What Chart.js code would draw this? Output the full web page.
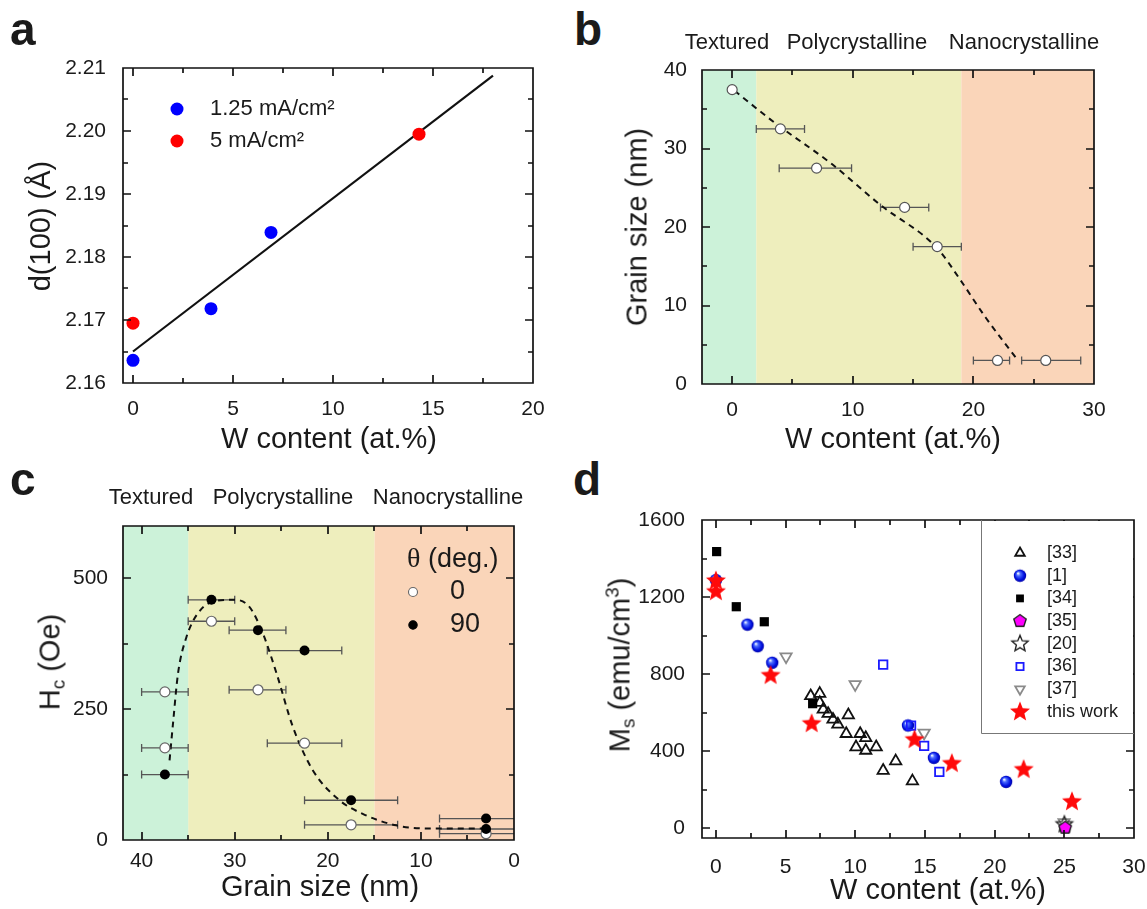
<!DOCTYPE html>
<html>
<head>
<meta charset="utf-8">
<script src="https://cdn.jsdelivr.net/npm/chart.js@4.4.1/dist/chart.umd.min.js"></script>
<style>
body { margin:0; width:1147px; height:909px; background:#fff; position:relative; overflow:hidden;
       font-family:"Liberation Sans", Arial, sans-serif; color:#1a1a1a; }
canvas { position:absolute; }
.t { position:absolute; white-space:nowrap; line-height:1; }
.c { transform:translate(-50%,-50%); }
.r { transform:translate(-50%,-50%) rotate(-90deg); }
.lab { font-weight:bold; font-size:46px; }
.ax { font-size:29px; }
.reg { font-size:22px; }
sub { font-size:65%; vertical-align:-0.25em; line-height:0; }
sup { font-size:65%; vertical-align:0.6em; line-height:0; }
</style>
</head>
<body>
<canvas id="chartA"></canvas>
<canvas id="chartB"></canvas>
<canvas id="chartC"></canvas>
<canvas id="chartD"></canvas>

<div class="t lab" style="left:10px;top:6px">a</div>
<div class="t lab" style="left:574px;top:6px">b</div>
<div class="t lab" style="left:10px;top:456px">c</div>
<div class="t lab" style="left:573px;top:456px">d</div>

<div class="t ax r" style="left:40px;top:226px">d(100) (Å)</div>
<div class="t ax c" style="left:329px;top:438px">W content (at.%)</div>
<div class="t ax r" style="left:637px;top:227px">Grain size (nm)</div>
<div class="t ax c" style="left:893px;top:438px">W content (at.%)</div>
<div class="t ax r" style="left:50px;top:662px">H<sub>c</sub> (Oe)</div>
<div class="t ax c" style="left:320px;top:886px">Grain size (nm)</div>
<div class="t ax r" style="left:620px;top:665px">M<sub>s</sub> (emu/cm<sup>3</sup>)</div>
<div class="t ax c" style="left:938px;top:889px">W content (at.%)</div>

<script>
// ---- panel a: d(100) vs W content
const aX125 = [0, 3.9, 6.9];
const aY125 = [2.1636, 2.1718, 2.1839];
const aX5 = [0, 14.3];
const aY5 = [2.1695, 2.1995];
const aFitX = [0, 18];
const aFitY = [2.165, 2.2088];
const aXTicks = [0, 5, 10, 15, 20];
const aYTicks = [2.16, 2.17, 2.18, 2.19, 2.20, 2.21];
const aSeries = ['1.25 mA/cm²', '5 mA/cm²'];

// ---- panel b: grain size vs W content
const bX = [0, 4, 7, 14.3, 17, 22, 26];
const bY = [37.5, 32.5, 27.5, 22.5, 17.5, 3, 3];
const bErrLo = [null, 2, 3.9, 12.3, 15, 20, 24];
const bErrHi = [null, 6, 9.9, 16.3, 19, 23, 28.9];
const bFitX = [0.2, 3.6, 8.2, 12.3, 17.0, 18.9, 21.0, 23.5];
const bFitY = [37.35, 33.2, 28.1, 22.8, 17.3, 13.3, 8.5, 3.4];
const bBandEdges = [2, 19];
const bXTicks = [0, 10, 20, 30];
const bYTicks = [0, 10, 20, 30, 40];

const regionNames = ['Textured', 'Polycrystalline', 'Nanocrystalline'];

// ---- panel c: Hc vs grain size
const c0X = [37.5, 37.5, 32.5, 27.5, 22.5, 17.5, 3];
const c0Y = [283, 176, 418, 287, 185, 29, 12];
const c0Lo = [35, 35, 30, 24.5, 18.5, 12.5, -2];
const c0Hi = [40, 40, 35, 30.6, 26.5, 22.5, 8];
const c90X = [37.5, 32.5, 27.5, 22.5, 17.5, 3, 3];
const c90Y = [125, 459, 401, 362, 76, 41, 21];
const c90Lo = [35, 30, 24.5, 18.5, 12.5, -2, -2];
const c90Hi = [40, 35, 30.6, 26.5, 22.5, 8, 8];
const cFitX = [37.0, 36.6, 36.1, 35.2, 33.75, 31.96, 30, 28.4, 26.96, 25.5, 23.75, 21.6, 18.75, 16.25, 12.67, 9.1, 5.5, 2.7];
const cFitY = [152, 228, 317, 387, 438, 457, 459, 445, 394, 318, 216, 133, 76, 50, 28, 22, 22, 22];
const cBandEdges = [15, 35];
const cXTicks = [0, 10, 20, 30, 40];
const cYTicks = [0, 250, 500];
const cSeries = ['0', '90'];

// ---- panel d: Ms vs W content
const d33X = [6.8, 7.45, 7.45, 7.7, 8.05, 8.4, 8.75, 9.5, 9.35, 10.35, 10.75, 10.05, 10.75, 11.5, 12.9, 12.0, 14.1];
const d33Y = [687, 699, 652, 617, 595, 565, 540, 588, 491, 491, 470, 422, 404, 422, 349, 300, 245];
const d1X = [0, 2.26, 3.0, 4.04, 13.78, 15.64, 20.82];
const d1Y = [1288, 1057, 945, 859, 534, 366, 241];
const d34X = [0.05, 1.46, 3.47, 6.94];
const d34Y = [1436, 1150, 1072, 647];
const d35X = [25.06];
const d35Y = [3];
const d20X = [25];
const d20Y = [20];
const d36X = [12.0, 14.0, 14.94, 16.03];
const d36Y = [850, 533, 428, 293];
const d37X = [5.03, 9.99, 14.94, 24.98];
const d37Y = [891, 747, 495, 31];
const dWorkX = [0, 0, 3.92, 6.87, 14.25, 16.93, 22.08, 25.55];
const dWorkY = [1284, 1228, 793, 543, 460, 336, 305, 138];
const dLegend = ['[33]', '[1]', '[34]', '[35]', '[20]', '[36]', '[37]', 'this work'];
const dXTicks = [0, 5, 10, 15, 20, 25, 30];
const dYTicks = [0, 400, 800, 1200, 1600];

const FONT = '"Liberation Sans", Arial, sans-serif';
Chart.defaults.font.family = FONT;
Chart.defaults.color = '#1a1a1a';

const GREEN = '#ccf2d9', YELLOW = '#eeeebd', ORANGE = '#fad5b9';
const PAD = 28;   // room kept free above and right of each plot

function xy(xs, ys) { return xs.map((x, i) => ({ x: x, y: ys[i] })); }
function zip(lo, hi) { return lo.map((l, i) => (l === null ? null : [l, hi[i]])); }

function axis(pos, min, max, ticks, size, pad, fmt, extra) {
  return Object.assign({
    type: 'linear', position: pos, min: min, max: max,
    grid: { display: false }, border: { display: false },
    ticks: { font: { size: 21 }, padding: pad, maxRotation: 0, autoSkip: false,
             callback: fmt || (v => String(v)) },
    afterBuildTicks: s => { s.ticks = ticks.map(v => ({ value: v })); },
    afterFit: s => { if (pos === 'left') s.width = size; else s.height = size; }
  }, extra || {});
}

// frame with inward ticks on all four sides, built as one path
function frameTicks(xMinor, xMajor, yMinor, yMajor) {
  return {
    id: 'frameTicks',
    afterDraw(chart) {
      const ctx = chart.ctx, a = chart.chartArea;
      const sx = chart.scales.x, sy = chart.scales.y;
      const xo = chart.options.scales.x, yo = chart.options.scales.y;
      const each = (min, max, minor, major, fn) => {
        const k0 = Math.ceil(min / minor - 1e-6), k1 = Math.floor(max / minor + 1e-6);
        for (let k = k0; k <= k1; k++) {
          const v = k * minor, r = v / major;
          fn(v, Math.abs(r - Math.round(r)) < 1e-6 ? 8 : 5);
        }
      };
      ctx.save();
      ctx.strokeStyle = '#111';
      ctx.lineWidth = 1.7;
      ctx.setLineDash([]);
      ctx.beginPath();
      ctx.rect(a.left, a.top, a.right - a.left, a.bottom - a.top);
      each(xo.min, xo.max, xMinor, xMajor, (v, len) => {
        const px = Math.round(sx.getPixelForValue(v));
        ctx.moveTo(px, a.bottom); ctx.lineTo(px, a.bottom - len);
        ctx.moveTo(px, a.top); ctx.lineTo(px, a.top + len);
      });
      each(yo.min, yo.max, yMinor, yMajor, (v, len) => {
        const py = Math.round(sy.getPixelForValue(v));
        ctx.moveTo(a.left, py); ctx.lineTo(a.left + len, py);
        ctx.moveTo(a.right, py); ctx.lineTo(a.right - len, py);
      });
      ctx.stroke();
      ctx.restore();
    }
  };
}

function bands(edges, colors) {
  return {
    id: 'bands',
    beforeDraw(chart) {
      const { ctx, chartArea: a, scales: { x } } = chart;
      const vals = [x.min].concat(edges, [x.max]);
      ctx.save();
      for (let i = 0; i < colors.length; i++) {
        const p1 = x.getPixelForValue(vals[i]), p2 = x.getPixelForValue(vals[i + 1]);
        ctx.fillStyle = colors[i];
        ctx.fillRect(Math.min(p1, p2), a.top, Math.abs(p2 - p1), a.bottom - a.top);
      }
      ctx.restore();
    }
  };
}

const errorBars = {
  id: 'errorBars',
  beforeDatasetsDraw(chart) {
    const { ctx, chartArea: a, scales: { x, y } } = chart;
    ctx.save();
    ctx.beginPath();
    ctx.rect(a.left, a.top, a.right - a.left, a.bottom - a.top);
    ctx.clip();
    ctx.strokeStyle = '#555';
    ctx.lineWidth = 1.3;
    chart.data.datasets.forEach(ds => {
      if (!ds.xErr) return;
      ds.data.forEach((p, i) => {
        const e = ds.xErr[i];
        if (!e) return;
        const py = y.getPixelForValue(p.y);
        const p1 = x.getPixelForValue(e[0]), p2 = x.getPixelForValue(e[1]);
        ctx.beginPath();
        ctx.moveTo(p1, py); ctx.lineTo(p2, py);
        ctx.moveTo(p1, py - 4); ctx.lineTo(p1, py + 4);
        ctx.moveTo(p2, py - 4); ctx.lineTo(p2, py + 4);
        ctx.stroke();
      });
    });
    ctx.restore();
  }
};

function place(id, L, T, R, B) {
  const cv = document.getElementById(id);
  cv.width = R - L + 90 + PAD;
  cv.height = B - T + PAD + 40;
  cv.style.left = (L - 90) + 'px';
  cv.style.top = (T - PAD) + 'px';
  return cv;
}

function baseOptions(scales) {
  return {
    responsive: false, animation: false, devicePixelRatio: 1, events: [],
    layout: { padding: { left: 0, top: PAD, right: PAD, bottom: 0 } },
    plugins: { legend: { display: false }, tooltip: { enabled: false } },
    scales: scales
  };
}

function fitLine(xs, ys, dash, extra) {
  return Object.assign({
    data: xy(xs, ys), showLine: true, pointRadius: 0, borderColor: '#111',
    borderWidth: 2, borderDash: dash, fill: false
  }, extra || {});
}

// ---------- a
new Chart(place('chartA', 123, 68, 533, 383), {
  type: 'scatter',
  data: {
    datasets: [
      { label: aSeries[0], data: xy(aX125, aY125), pointRadius: 6.5, pointBackgroundColor: '#0000ff', pointBorderWidth: 0 },
      { label: aSeries[1], data: xy(aX5, aY5), pointRadius: 6.5, pointBackgroundColor: '#ff0000', pointBorderWidth: 0 },
      fitLine(aFitX, aFitY, [], { borderWidth: 2.2 })
    ]
  },
  options: baseOptions({
    x: axis('bottom', -0.5, 20, aXTicks, 40, 6),
    y: axis('left', 2.16, 2.21, aYTicks, 90, 9, v => v.toFixed(2))
  }),
  plugins: [frameTicks(2.5, 5, 0.005, 0.01), {
    id: 'legendA',
    afterDraw(chart) {
      const { ctx, chartArea: a } = chart;
      const cols = ['#0000ff', '#ff0000'];
      ctx.save();
      ctx.font = '22px ' + FONT;
      ctx.textBaseline = 'middle';
      aSeries.forEach((s, i) => {
        const y = a.top + 41 + i * 32;
        ctx.fillStyle = cols[i];
        ctx.beginPath(); ctx.arc(a.left + 54, y, 6.5, 0, Math.PI * 2); ctx.fill();
        ctx.fillStyle = '#1a1a1a';
        ctx.fillText(s, a.left + 87, y);
      });
      ctx.restore();
    }
  }]
});

// ---------- b
new Chart(place('chartB', 702, 70, 1094, 384), {
  type: 'scatter',
  data: {
    datasets: [
      { label: 'grain size', data: xy(bX, bY), xErr: zip(bErrLo, bErrHi), pointRadius: 5,
        pointBackgroundColor: '#ffffff', pointBorderColor: '#555', pointBorderWidth: 1.2 },
      fitLine(bFitX, bFitY, [6, 5], { cubicInterpolationMode: 'monotone' })
    ]
  },
  options: baseOptions({
    x: axis('bottom', -2.5, 30, bXTicks, 40, 6),
    y: axis('left', 0, 40, bYTicks, 90, 7)
  }),
  plugins: [bands(bBandEdges, [GREEN, YELLOW, ORANGE]), errorBars, frameTicks(5, 10, 5, 10)]
});

// ---------- c
new Chart(place('chartC', 123, 526, 514, 840), {
  type: 'scatter',
  data: {
    datasets: [
      { label: cSeries[1], data: xy(c90X, c90Y), xErr: zip(c90Lo, c90Hi), pointRadius: 5,
        pointBackgroundColor: '#000', pointBorderColor: '#000', pointBorderWidth: 0 },
      { label: cSeries[0], data: xy(c0X, c0Y), xErr: zip(c0Lo, c0Hi), pointRadius: 5,
        pointBackgroundColor: '#ffffff', pointBorderColor: '#666', pointBorderWidth: 1.2 },
      fitLine(cFitX, cFitY, [6, 5], { cubicInterpolationMode: 'monotone' })
    ]
  },
  options: baseOptions({
    x: axis('bottom', 0, 42, cXTicks, 40, 1, null, { reverse: true }),
    y: axis('left', 0, 600, cYTicks, 90, 7)
  }),
  plugins: [bands(cBandEdges, [ORANGE, YELLOW, GREEN]), errorBars, frameTicks(5, 10, 125, 250), {
    id: 'legendC',
    afterDraw(chart) {
      const { ctx, chartArea: a } = chart;
      ctx.save();
      ctx.textBaseline = 'middle';
      ctx.fillStyle = '#1a1a1a';
      ctx.font = '28px "Liberation Serif", serif';
      ctx.fillText('θ', a.left + 284, a.top + 34);
      const w = ctx.measureText('θ').width;
      ctx.font = '27px ' + FONT;
      ctx.fillText(' (deg.)', a.left + 284 + w, a.top + 34);
      const st = [['#ffffff', '#666', 4.5], ['#000', '#000', 4.2]];
      cSeries.forEach((s, i) => {
        const y = a.top + 66 + i * 33;
        ctx.beginPath(); ctx.arc(a.left + 290, y, st[i][2], 0, Math.PI * 2);
        ctx.fillStyle = st[i][0]; ctx.fill();
        ctx.strokeStyle = st[i][1]; ctx.lineWidth = 1.1; ctx.stroke();
        ctx.fillStyle = '#1a1a1a';
        ctx.fillText(s, a.left + 327, y);
      });
      ctx.restore();
    }
  }]
});

// ---------- d : custom markers
function marker(size, paint) {
  const c = document.createElement('canvas');
  c.width = c.height = size;
  const g = c.getContext('2d');
  g.translate(size / 2, size / 2);
  paint(g);
  return c;
}
function starPath(g, R, r) {
  g.beginPath();
  for (let i = 0; i < 10; i++) {
    const ang = -Math.PI / 2 + i * Math.PI / 5, rad = i % 2 ? r : R;
    g.lineTo(rad * Math.cos(ang), rad * Math.sin(ang));
  }
  g.closePath();
}
const redStar = marker(24, g => { starPath(g, 10.5, 4.6); g.fillStyle = '#ff0a0a'; g.fill(); });
const openStar = marker(22, g => { starPath(g, 8.5, 3.8); g.strokeStyle = '#222'; g.lineWidth = 1.4; g.stroke(); });
const pentagon = marker(18, g => {
  g.beginPath();
  for (let i = 0; i < 5; i++) {
    const ang = -Math.PI / 2 + i * 2 * Math.PI / 5;
    g.lineTo(6.5 * Math.cos(ang), 6.5 * Math.sin(ang));
  }
  g.closePath();
  g.fillStyle = '#ff00ff'; g.fill();
  g.strokeStyle = '#222'; g.lineWidth = 1.4; g.stroke();
});
const sphere = marker(16, g => {
  const gr = g.createRadialGradient(-2, -2.5, 0.5, 0, 0, 6.5);
  gr.addColorStop(0, '#e8efff');
  gr.addColorStop(0.25, '#4d6dff');
  gr.addColorStop(0.7, '#0010e0');
  gr.addColorStop(1, '#0000a0');
  g.fillStyle = gr;
  g.beginPath(); g.arc(0, 0, 6.2, 0, Math.PI * 2); g.fill();
});

const NONE = 'rgba(0,0,0,0)';
const dSets = [
  { label: 'this work', data: xy(dWorkX, dWorkY), pointStyle: redStar, pointRadius: 10 },
  { label: '[35]', data: xy(d35X, d35Y), pointStyle: pentagon, pointRadius: 7 },
  { label: '[20]', data: xy(d20X, d20Y), pointStyle: openStar, pointRadius: 8 },
  { label: '[37]', data: xy(d37X, d37Y), pointStyle: 'triangle', pointRotation: 180, pointRadius: 6.5,
    pointBackgroundColor: NONE, pointBorderColor: '#8a8a8a', pointBorderWidth: 1.8 },
  { label: '[36]', data: xy(d36X, d36Y), pointStyle: 'rect', pointRadius: 6,
    pointBackgroundColor: NONE, pointBorderColor: '#1a1aff', pointBorderWidth: 1.8 },
  { label: '[34]', data: xy(d34X, d34Y), pointStyle: 'rect', pointRadius: 6.5,
    pointBackgroundColor: '#000', pointBorderColor: '#000', pointBorderWidth: 0 },
  { label: '[1]', data: xy(d1X, d1Y), pointStyle: sphere, pointRadius: 6 },
  { label: '[33]', data: xy(d33X, d33Y), pointStyle: 'triangle', pointRadius: 6.5,
    pointBackgroundColor: NONE, pointBorderColor: '#111', pointBorderWidth: 1.8 }
];

new Chart(place('chartD', 702, 520, 1134, 838), {
  type: 'scatter',
  data: { datasets: dSets },
  options: baseOptions({
    x: axis('bottom', -1, 30, dXTicks, 40, 9),
    y: axis('left', -50, 1600, dYTicks, 90, 9)
  }),
  plugins: [frameTicks(2.5, 5, 200, 400), {
    id: 'legendD',
    afterDraw(chart) {
      const { ctx, chartArea: a } = chart;
      const bx = a.left + 279, by = a.top + 213;
      ctx.save();
      ctx.fillStyle = '#fff';
      ctx.fillRect(bx, a.top + 1, a.right - bx - 1, by - a.top - 1);
      ctx.strokeStyle = '#777';
      ctx.lineWidth = 1;
      ctx.beginPath();
      ctx.moveTo(bx + 0.5, a.top); ctx.lineTo(bx + 0.5, by + 0.5); ctx.lineTo(a.right, by + 0.5);
      ctx.stroke();
      ctx.font = '18px ' + FONT;
      ctx.textBaseline = 'middle';
      dLegend.forEach((name, i) => {
        const ds = dSets.find(d => d.label === name);
        const y = a.top + 33 + i * 22.7, x = a.left + 318;
        ctx.fillStyle = ds.pointBackgroundColor || '#000';
        ctx.strokeStyle = ds.pointBorderColor || '#000';
        ctx.lineWidth = ds.pointBorderWidth || 0;
        Chart.helpers.drawPoint(ctx, {
          pointStyle: ds.pointStyle, radius: ds.pointRadius * 0.85,
          rotation: ds.pointRotation || 0, borderWidth: ds.pointBorderWidth || 0
        }, x, y);
        ctx.fillStyle = '#1a1a1a';
        ctx.fillText(name, a.left + 345, y);
      });
      ctx.restore();
    }
  }]
});

// region labels above b and c
const regionSpots = [
  { y: 42, xs: [727, 857, 1024] },
  { y: 497, xs: [151, 283, 448] }
];
regionSpots.forEach(spot => {
  regionNames.forEach((name, i) => {
    const el = document.createElement('div');
    el.className = 't c reg';
    el.style.left = spot.xs[i] + 'px';
    el.style.top = spot.y + 'px';
    el.textContent = name;
    document.body.appendChild(el);
  });
});
</script>
</body>
</html>
